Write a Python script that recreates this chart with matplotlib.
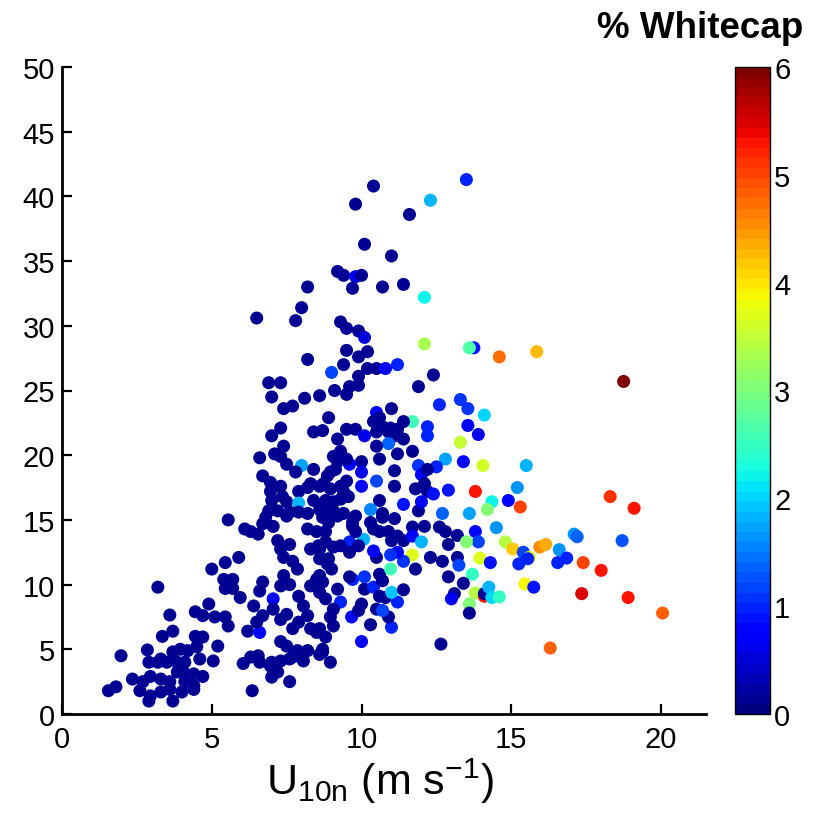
import numpy as np
import matplotlib
matplotlib.use('Agg')
import matplotlib.pyplot as plt
from matplotlib import colors

# ---------------- data (U10n [m/s], y value, % whitecap) ----------------
# upper sparse cloud
x_top = [10.4,9.8,12.3,11.6,10.1,11.0,9.2,9.4,9.8,10.0,9.7,8.2,10.7,11.4,12.1,6.5,8.0,7.8,9.3,9.5,
         9.9,10.1,12.1,9.5,8.2,10.2,9.9,9.4,9.0,10.2,10.5,10.8,11.2,12.4,11.9,6.9,7.3,7.0,8.1,8.6,
         9.1,9.6,9.9,9.9,9.5,7.4,7.7,8.9,11.0,12.6,13.3,11.7,10.5,12.2,7.3,7.0,8.4,8.7,9.5,9.8,
         10.4,10.7,11.2,11.4,10.1]
y_top = [40.8,39.4,39.7,38.6,36.3,35.4,34.2,33.9,33.8,33.9,32.9,33.0,33.0,33.2,32.2,30.6,31.4,30.4,30.3,29.8,
         29.6,29.1,28.6,28.1,27.4,28.0,27.6,27.0,26.4,26.7,26.7,26.7,27.0,26.2,25.3,25.6,25.6,24.5,24.4,24.6,
         25.0,25.3,26.1,25.4,24.7,23.6,23.8,22.9,23.6,23.9,24.3,22.6,23.3,22.2,22.1,21.5,21.8,21.9,22.0,22.0,
         22.6,22.2,22.0,22.6,21.5]
c_top = [0.1,0.1,1.8,0.1,0.1,0.1,0.1,0.1,0.6,0.1,0.1,0.1,0.1,0.1,2.2,0.1,0.1,0.1,0.1,0.1,
         0.1,0.5,3.3,0.1,0.1,0.1,0.1,0.1,1.2,0.1,0.1,0.8,1.0,0.1,0.1,0.1,0.1,0.1,0.1,0.1,
         0.1,0.1,0.1,0.1,0.1,0.1,0.1,0.1,0.1,1.0,1.1,2.6,0.8,1.0,0.1,0.1,0.1,0.1,0.1,0.1,
         0.1,0.1,0.1,0.1,0.6]

# high-wind points
x_right = [13.5,13.75,13.6,14.6,15.85,18.75,13.55,14.1,13.55,13.9,13.3,12.8,13.4,14.05,15.5,12.9,13.8,15.2,14.35,14.9,
           15.3,14.2,13.6,12.7,18.3,19.1,14.5,13.8,13.2,12.8,13.9,13.5,12.9,14.8,15.05,15.4,15.6,15.55,15.25,15.95,
           16.15,16.6,17.1,17.2,18.7,16.85,16.55,17.4,18.0,13.95,14.3,13.2,13.25,13.7,13.4,12.9,13.1,13.0,13.8,14.1,
           14.1,14.25,14.35,14.6,13.6,13.6,15.45,15.75,17.35,18.9,20.05,16.3,12.65]
y_right = [41.3,28.3,28.3,27.6,28.0,25.7,23.6,23.1,22.3,21.6,21.0,19.7,19.5,19.2,19.2,17.3,17.2,17.5,16.4,16.5,
           16.0,15.8,15.5,15.5,16.8,15.9,14.4,14.1,13.8,14.1,13.3,13.3,13.1,13.3,12.75,12.5,12.1,12.0,11.6,12.9,
           13.1,12.7,13.9,13.7,13.4,12.05,11.7,11.7,11.1,12.05,11.7,12.1,11.5,10.8,10.1,10.6,9.3,8.9,9.35,9.1,
           9.3,9.8,9.0,9.05,8.5,7.8,10.05,9.8,9.3,9.0,7.8,5.1,5.4]
c_right = [1.0,0.9,2.7,4.7,4.3,6.0,1.1,2.0,0.8,0.6,3.5,1.7,0.8,3.6,1.8,0.9,5.3,1.6,2.2,0.8,
           5.0,3.0,1.7,1.4,5.1,5.3,1.6,0.8,0.1,0.1,1.2,3.0,0.1,3.4,4.2,1.2,3.8,1.0,1.0,4.5,
           4.4,1.6,1.6,1.4,1.3,1.0,1.0,5.0,5.3,3.7,0.9,0.1,1.2,2.5,0.1,0.1,0.1,0.6,3.4,5.3,
           0.1,1.8,2.0,2.5,3.0,0.1,3.9,0.9,5.5,5.3,4.8,4.8,0.1]

# centre, y 15-23
x_mid = [10.6,10.97,10.5,10.9,11.1,11.4,12.2,9.2,10.9,10.5,11.7,11.2,9.3,10.6,11.9,12.5,10.0,9.6,9.06,9.2,
         9.13,8.86,8.73,8.96,9.3,9.5,10.0,10.5,11.1,11.1,12.0,12.1,12.2,12.4,10.0,9.4,8.8,9.06,9.3,10.6,
         11.4,10.3,10.7,11.9,12.0,9.8,9.06,9.4,8.96,9.5,12.2,8.2,8.7,9.56,11.8]
y_mid = [22.9,22.1,21.8,21.8,21.5,21.25,21.5,21.25,20.9,20.7,20.3,20.1,20.3,19.7,19.2,19.1,19.5,19.3,19.9,19.5,
         18.9,18.4,17.8,17.4,17.6,18.0,18.7,18.0,18.8,17.6,18.5,17.8,17.2,17.0,17.6,17.2,16.5,16.4,16.6,16.5,
         16.2,15.8,15.5,15.7,16.4,15.3,15.7,15.5,18.7,19.7,18.9,17.5,16.1,16.8,17.4]
c_mid = [0.1,0.1,0.1,0.1,0.1,0.1,1.0,0.1,1.4,0.1,0.1,0.1,0.1,0.1,1.1,1.0,0.1,0.7,0.1,0.1,
         0.1,0.1,0.1,0.1,0.1,0.1,0.6,1.2,0.1,0.1,0.8,0.1,0.1,0.9,0.8,0.1,0.1,0.1,0.1,0.1,
         0.9,1.5,0.1,0.1,0.8,0.1,0.1,0.1,0.1,0.1,0.1,0.1,0.1,0.1,0.1]

# left flank, y 15-21
x_lflank = [7.4,7.1,6.6,7.3,7.5,8.0,8.4,7.8,6.7,6.96,7.3,8.3,8.6,6.96,7.0,7.36,7.5,7.9,7.9,8.4,
            8.6,6.9,7.2,5.55,7.6,7.9,8.9]
y_lflank = [20.7,20.1,19.8,19.9,19.3,19.2,18.9,18.7,18.4,17.9,17.6,17.8,17.6,17.2,16.5,16.8,16.4,17.2,16.3,16.5,
            15.8,15.7,15.7,15.0,15.6,15.6,15.6]
c_lflank = [0.1,0.1,0.1,0.1,0.1,1.7,0.1,0.1,0.1,0.1,0.1,0.1,0.1,0.1,0.1,0.1,0.1,0.1,1.8,0.1,
            0.1,0.1,0.1,0.1,0.1,0.1,0.1]

# lower left of the cluster
x_low = [6.3,6.55,6.8,7.05,7.5,6.7,5.9,5.45,5.0,5.4,5.7,5.45,5.7,5.95,6.7,6.6,6.4,4.9,4.45,4.7,
         5.1,5.45,5.55,6.2,6.6,4.45,4.7,3.95,4.2,4.5,5.2,5.05,4.05,4.4,4.7,4.1,4.4,6.05,6.3,6.55,
         7.0,7.3,7.2,7.6,6.35,6.96,7.7,8.06,8.6,8.2,8.7,7.5,7.3]
y_low = [14.1,13.9,15.2,14.5,15.3,14.7,12.1,11.7,11.2,10.4,10.4,9.7,9.7,9.0,10.2,9.5,8.35,8.5,7.9,7.6,
         7.5,7.5,6.8,6.4,6.3,6.0,5.95,5.0,4.9,5.2,5.25,4.1,3.25,3.1,2.9,2.5,2.2,3.9,4.4,4.5,
         4.0,4.1,3.25,2.5,1.8,3.7,4.4,4.1,4.6,4.9,5.0,5.25,5.6]
c_low = [0.1]*24 + [0.8] + [0.1]*28

# centre-right, y 4-15
x_cr = [10.0,9.67,10.3,11.0,10.9,10.5,10.7,10.8,11.2,11.0,11.4,10.0,8.96,9.3,10.1,9.2,9.7,10.1,10.4,10.6,
        10.7,10.97,11.8,11.7,11.4,11.2,10.97,10.5,10.4,10.07,9.6,9.9,9.06,8.6,8.9,9.0,8.6,8.8,9.06,8.6,
        8.8,8.7,9.7,10.3,10.7,11.1,10.6,10.9,11.0,11.4,11.7,11.7,12.0,12.3,12.6,12.7]
y_cr = [5.6,7.5,6.9,6.7,7.5,8.1,8.0,9.0,8.65,9.4,9.6,8.5,7.5,8.65,9.65,9.65,10.4,10.6,9.8,10.8,
        10.3,11.2,11.2,12.3,11.8,12.5,12.3,12.1,12.6,13.5,13.3,13.0,12.9,12.75,12.0,11.2,10.7,8.9,8.1,6.6,
        5.95,4.8,14.8,14.8,15.2,15.1,14.1,14.1,13.4,13.4,14.45,13.75,13.3,12.1,14.45,11.8]
c_cr = [0.8,0.8,0.1,1.0,0.1,0.1,1.2,0.1,1.0,1.9,0.1,0.1,0.1,1.0,0.1,0.1,1.0,1.1,1.0,0.1,
        0.1,2.6,0.1,3.7,1.1,0.8,1.1,0.1,0.8,1.8,1.0,0.1,0.1,0.1,0.1,0.1,0.1,0.1,0.1,0.1,
        0.1,0.1,0.1,0.1,0.1,0.1,0.1,0.1,0.1,0.1,0.1,0.8,1.8,0.1,0.1,0.1]

# low-wind tail
x_tail = [3.2,3.6,3.7,3.35,1.97,2.85,3.3,3.7,4.6,2.9,3.2,3.5,3.85,4.1,2.35,2.7,2.95,3.3,3.6,3.85,
          1.55,1.8,2.6,2.95,3.3,3.6,2.9,3.7,4.0,4.4,7.0]
y_tail = [9.8,7.65,6.4,6.0,4.5,4.95,4.25,4.8,4.25,4.0,4.0,4.0,4.0,4.0,2.7,2.5,2.9,2.7,2.5,3.25,
          1.8,2.1,1.8,1.4,1.7,1.9,1.0,1.0,1.7,1.9,2.85]
c_tail = [0.1]*31

# dense core
x_core = [6.1,8.2,8.7,8.9,8.2,8.5,8.8,9.2,9.7,9.8,10.4,11.2,12.1,
          7.2,7.3,7.6,7.4,7.7,7.86,8.3,8.56,8.8,8.6,8.86,9.3,9.6,
          7.05,7.4,7.3,7.6,7.9,8.06,8.3,8.5,8.7,8.6,9.6,10.6,
          6.5,6.7,7.05,7.3,7.5,7.7,7.9,8.2,8.3,8.5,9.06,9.9,
          6.6,7.6,7.86,8.96]
y_core = [14.3,15.5,15.2,14.8,14.3,14.1,14.1,15.3,14.5,14.1,14.3,13.75,14.5,
          13.4,12.75,13.1,12.1,11.8,11.2,12.75,13.0,13.3,12.0,11.6,13.0,12.5,
          8.9,10.7,9.9,10.0,9.1,8.35,9.9,10.4,10.2,9.4,10.6,9.1,
          7.1,7.6,8.1,7.3,7.7,6.6,7.1,7.6,6.6,6.3,6.8,8.0,
          4.0,4.25,4.9,4.0]
c_core = [0.1]*26 + [0.7] + [0.1]*27

u10n = np.array(x_top + x_right + x_mid + x_lflank + x_low + x_cr + x_tail + x_core)
yval = np.array(y_top + y_right + y_mid + y_lflank + y_low + y_cr + y_tail + y_core)
whitecap = np.array(c_top + c_right + c_mid + c_lflank + c_low + c_cr + c_tail + c_core)

x_ticks = [0, 5, 10, 15, 20]
y_ticks = [0, 5, 10, 15, 20, 25, 30, 35, 40, 45, 50]
cbar_ticks = [0, 1, 2, 3, 4, 5, 6]

# ---------------- plotting ----------------
plt.rcParams['font.family'] = ['Liberation Sans', 'DejaVu Sans']
plt.rcParams['mathtext.fontset'] = 'custom'
plt.rcParams['mathtext.rm'] = 'Liberation Sans'
plt.rcParams['mathtext.it'] = 'Liberation Sans:italic'
plt.rcParams['mathtext.bf'] = 'Liberation Sans:bold'

W, H = 813, 829
fig = plt.figure(figsize=(W / 100, H / 100), dpi=100)
ax = fig.add_axes([62 / W, 114 / H, 644 / W, 647 / H])

cmap = plt.get_cmap('jet', 64)
norm = colors.Normalize(vmin=0, vmax=6)
sc = ax.scatter(u10n, yval, c=whitecap, cmap=cmap, norm=norm, s=88, linewidths=0, zorder=3)

ax.set_xlim(0, 21.5)
ax.set_ylim(0, 50)
ax.set_xticks(x_ticks)
ax.set_yticks(y_ticks)
for s in ['top', 'right']:
    ax.spines[s].set_visible(False)
for s in ['left', 'bottom']:
    ax.spines[s].set_linewidth(2)
ax.tick_params(direction='in', length=7, width=1.6, labelsize=21)
ax.tick_params(axis='x', pad=8)
ax.tick_params(axis='y', pad=5)

# x-axis label (placed by baseline like the reference)
fig.text(380 / W, 1 - 795 / H, r'$\mathrm{U_{10n}\ (m\ s^{-1})}$',
         ha='center', va='baseline', fontsize=31)

cax = fig.add_axes([735 / W, 114 / H, 35 / W, 647 / H])
cb = fig.colorbar(sc, cax=cax, ticks=cbar_ticks)
cb.outline.set_linewidth(1)
cax.tick_params(labelsize=21, length=0, pad=3)

fig.text(803 / W, 1 - 28 / H, '% Whitecap', ha='right', va='center',
         fontsize=26.5, fontweight='bold')

fig.savefig('out.png', dpi=100)
